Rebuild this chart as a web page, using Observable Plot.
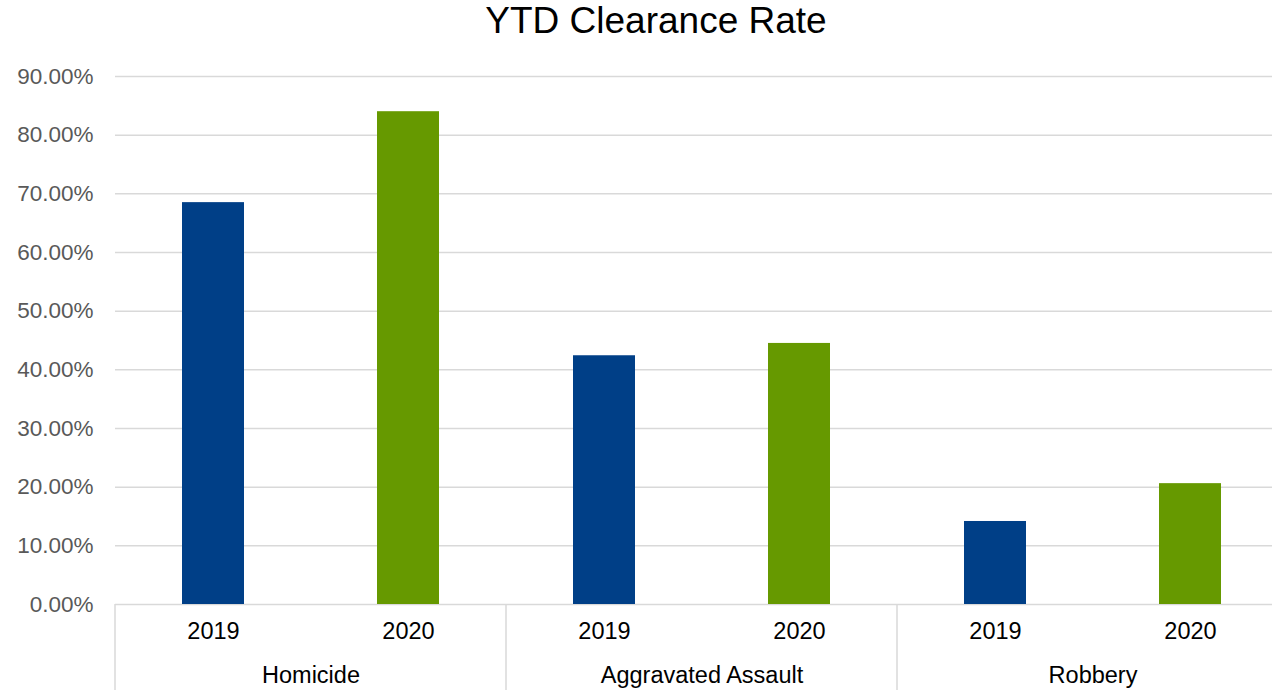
<!DOCTYPE html>
<html>
<head>
<meta charset="utf-8">
<script src="https://cdn.jsdelivr.net/npm/d3@7"></script>
<script src="https://cdn.jsdelivr.net/npm/@observablehq/plot@0.6"></script>
<style>
  html, body { margin: 0; padding: 0; background: white; overflow: hidden; }
  #title {
    width: 1312px; height: 50px; box-sizing: border-box; padding-top: 3px;
    text-align: center; font-family: "Liberation Sans", Arial, sans-serif;
    font-size: 37px; line-height: 36px; color: #000;
  }
  #chart { width: 1288px; }
  #chart svg { display: block; max-width: none !important; }
</style>
</head>
<body>
<div id="title">YTD Clearance Rate</div>
<div id="chart"></div>
<script>
const categories = ["Homicide", "Aggravated Assault", "Robbery"];
const years = ["2019", "2020"];
const rate2019 = [68.5, 42.4, 14.15];
const rate2020 = [84.0, 44.5, 20.6];
const yTicks = [0, 10, 20, 30, 40, 50, 60, 70, 80, 90];

const data = categories.flatMap((c, i) => [
  {cat: c, year: years[0], value: rate2019[i]},
  {cat: c, year: years[1], value: rate2020[i]}
]);

const H = 640;
const chart = Plot.plot({
  width: 1288,
  height: H,
  marginLeft: 114,
  marginRight: 0,
  marginTop: 26,
  marginBottom: 86,
  style: {fontFamily: "'Liberation Sans', Arial, sans-serif", background: "white", overflow: "visible", maxWidth: "none"},
  fx: {domain: categories, padding: 0, label: null},
  x: {domain: years, paddingInner: 0.683, paddingOuter: 0.3415, label: null},
  y: {domain: [0, 90], label: null},
  color: {domain: years, range: ["#003f87", "#669900"]},
  marks: [
    Plot.ruleY(yTicks, {stroke: "#d9d9d9", strokeWidth: 1.5}),
    Plot.barY(data, {fx: "cat", x: "year", y: "value", fill: "year"}),
    Plot.axisY(yTicks, {tickSize: 0, tickPadding: 22, tickFormat: d => d.toFixed(2) + "%", fontSize: 22.5, fill: "#595959", label: null}),
    Plot.axisX({tickSize: 0, tickPadding: 18, fontSize: 23.5, fill: "#000", label: null}),
    Plot.axisFx({anchor: "bottom", tickSize: 0, tickPadding: 62, fontSize: 23.5, fill: "#000", label: null})
  ]
});
document.getElementById("chart").appendChild(chart);

// category separators below the axis, positioned from the fx / y scales
const fx = chart.scale("fx");
const y = chart.scale("y");
const bw = fx.bandwidth;
const edges = categories.map(c => fx.apply(c)).concat([fx.apply(categories[categories.length - 1]) + bw]);
const g = d3.select(chart).append("g").attr("stroke", "#d9d9d9").attr("stroke-width", 1.5);
edges.forEach(xp => {
  g.append("line").attr("x1", xp).attr("x2", xp).attr("y1", y.apply(0)).attr("y2", H);
});
</script>
</body>
</html>
